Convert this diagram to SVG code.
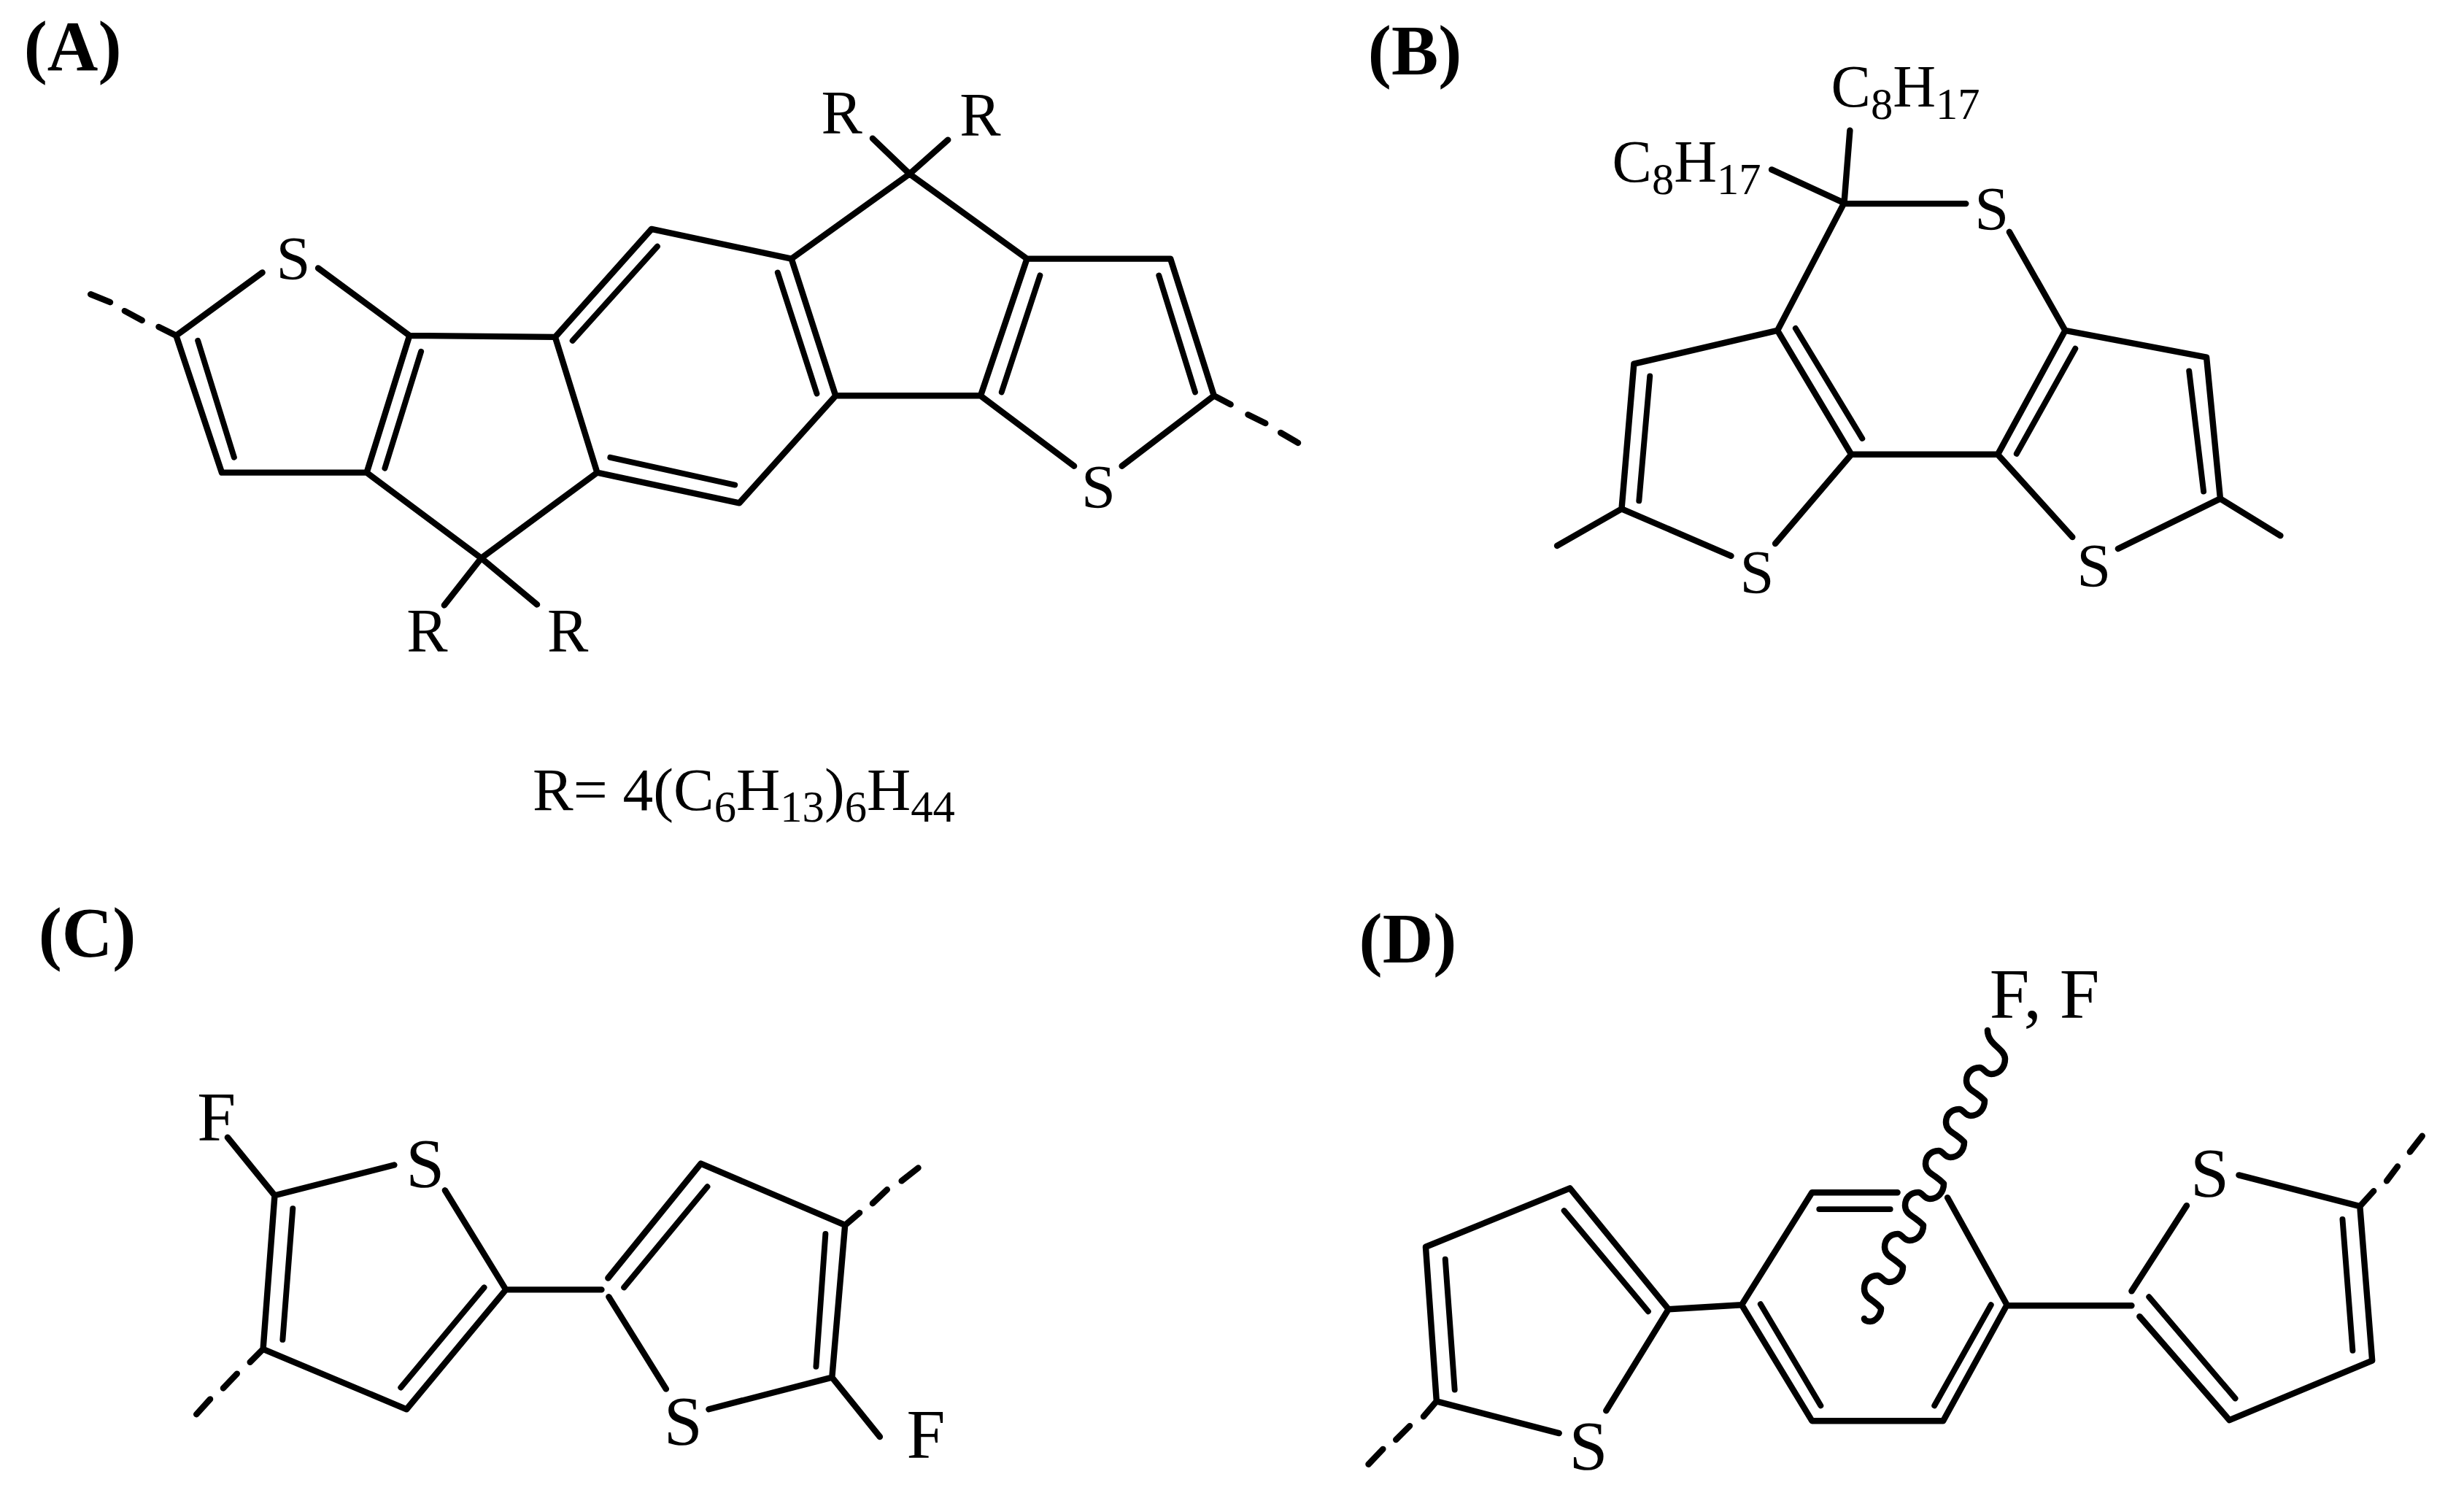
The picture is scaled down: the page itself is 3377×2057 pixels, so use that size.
<svg xmlns="http://www.w3.org/2000/svg" width="3377" height="2057" viewBox="0 0 3377 2057">
<style>
text{font-family:"Liberation Serif","Times New Roman",serif;fill:#000}
.p{font-weight:bold;font-size:97px}
.a{font-size:85px}
.f{font-size:96px}
.s{font-size:61px}
path{fill:none;stroke:#000;stroke-linecap:round;stroke-linejoin:round}
.b{stroke-width:8.5}
.i{stroke-width:8}
.w{stroke-width:8.5}
</style>
<rect width="3377" height="2057" fill="#fff"/>
<g id="connectors">
<g id="bonds-A" transform="scale(.9933)">
<path class="b" d="M362 376L243 463L306 652H506L565 463L439 370M565 463L766 465L899 316L1092 357L1153 546L1020 694L824 652L664 770L506 652M766 465L824 652M1092 357L1255 240L1417 357H1615L1675 546L1548 643M1417 357L1353 546L1482 643M1153 546H1353M664 770L613 835M664 770L741 834M1255 240L1204 191M1255 240L1308 193M243 463L219 451M196 442L172 429M152 417L125 406M1675 546L1698 558M1722 572L1746 584M1767 597L1791 611"/>
<path class="i" d="M273 470L323 631M581 485L531 646M790 470L907 340M1073 376L1127 543M842 631L1014 669M1435 380L1382 541M1599 380L1649 541"/>
</g>
<g id="bonds-B" transform="translate(1850 0) scale(.9933) translate(-1850 0)">
<path class="b" d="M2700 281H2532L2540 180M2532 280L2432 234M2532 280L2440 456L2242 502L2225 702L2376 767M2437 750L2542 627L2440 456M2542 627H2744L2837 456L2760 320M2837 456L3032 493L3051 688L2910 757M2847 741L2744 627M2225 702L2136 753M3051 688L3134 739"/>
<path class="i" d="M2264 519L2249 691M2465 453L2557 605M2851 481L2770 626M3008 512L3028 678"/>
</g>
<g id="bonds-C" transform="translate(0 1230) scale(.9933) translate(0 -1230)">
<path class="b" d="M314 1561L379 1641L544 1599M379 1641L363 1853L561 1936L698 1771L614 1634M698 1771H830M840 1781L919 1908M978 1936L1148 1892L1166 1682L967 1597L839 1755M1148 1892L1214 1974M363 1853L345 1871M327 1887L308 1907M290 1922L271 1943M1166 1682L1186 1665M1204 1652L1224 1633M1244 1621L1267 1603"/>
<path class="i" d="M404 1659L390 1840M668 1768L553 1906M976 1629L861 1768M1139 1694L1126 1877"/>
</g>
<g id="bonds-D" transform="translate(1800 1230) scale(.9933) translate(-1800 -1230)">
<path class="b" d="M2139 1969L1970 1925L1955 1712L2154 1631L2290 1798L2204 1938M2290 1798L2391 1792L2488 1952H2669L2757 1792L2675 1644M2391 1792L2488 1637H2606M2757 1793H2929M2929 1773L3005 1655M3077 1613L3244 1656L3261 1869L3064 1951L2940 1808M1970 1925L1952 1946M1933 1959L1914 1978M1896 1991L1876 2012M3244 1656L3263 1635M3281 1621L3296 1601M3313 1581L3330 1559"/>
<path class="i" d="M1982 1729L1995 1909M2146 1662L2262 1801M2498 1660H2596M2417 1791L2500 1931M2735 1792L2657 1931M3220 1674L3234 1855M3072 1921L2953 1781"/>
</g>
<path id="wavy-bond" class="w" d="M2724 1412C2724 1432 2748 1437 2748 1451c0 13 -9 21 -19 21c-8 0 -10 -9 -16 -9c-11 0 -18 8 -18 18c0 9 7 13 13 17c7 5 12 10 12 10c0 13 -9 21 -19 21c-8 0 -10 -9 -16 -9c-11 0 -18 8 -18 18c0 9 7 13 13 17c7 5 12 10 12 10c0 13 -9 21 -19 21c-8 0 -10 -9 -16 -9c-11 0 -18 8 -18 18c0 9 7 13 13 17c7 5 12 10 12 10c0 13 -9 21 -19 21c-8 0 -10 -9 -16 -9c-11 0 -18 8 -18 18c0 9 7 13 13 17c7 5 12 10 12 10c0 13 -9 21 -19 21c-8 0 -10 -9 -16 -9c-11 0 -18 8 -18 18c0 9 7 13 13 17c7 5 12 10 12 10c0 13 -9 21 -19 21c-8 0 -10 -9 -16 -9c-11 0 -18 8 -18 18c0 9 6 13 12 17c7 5 11 10 11 10c0 10 -8 18 -15 18c-5 0 -8 -2 -8 -4"/>
</g>
<g id="panel-A" transform="scale(.9933)">
<text class="p" x="33" y="97">(A)</text>
<text class="a" x="1133" y="184">R</text>
<text class="a" x="1324" y="187">R</text>
<text class="a" x="561" y="899">R</text>
<text class="a" x="755" y="899">R</text>
<text class="a" x="381" y="386">S</text>
<text class="a" x="1492" y="701">S</text>
<text class="a" x="735" y="1117" style="font-size:84px">R= 4(C<tspan class="s" dy="17">6</tspan><tspan dy="-17">H</tspan><tspan class="s" dy="17">13</tspan><tspan dy="-17">)</tspan><tspan class="s" dy="17">6</tspan><tspan dy="-17">H</tspan><tspan class="s" dy="17">44</tspan></text>
</g>
<g id="panel-B" transform="translate(1850 0) scale(.9933) translate(-1850 0)">
<text class="p" x="1875" y="103">(B)</text>
<text class="a" x="2514" y="147" style="font-size:82px">C<tspan class="s" dy="17">8</tspan><tspan dy="-17">H</tspan><tspan class="s" dy="17">17</tspan></text>
<text class="a" x="2212" y="251" style="font-size:82px">C<tspan class="s" dy="17">8</tspan><tspan dy="-17">H</tspan><tspan class="s" dy="17">17</tspan></text>
<text class="a" x="2712" y="317">S</text>
<text class="a" x="2388" y="818">S</text>
<text class="a" x="2853" y="809">S</text>
</g>
<g id="panel-C" transform="translate(0 1230) scale(.9933) translate(0 -1230)">
<text class="p" x="53" y="1312">(C)</text>
<text class="f" x="272" y="1565">F</text>
<text class="f" x="560" y="1630">S</text>
<text class="f" x="916" y="1985">S</text>
<text class="f" x="1251" y="2003">F</text>
</g>
<g id="panel-D" transform="translate(1800 1230) scale(.9933) translate(-1800 -1230)">
<text class="p" x="1863" y="1320">(D)</text>
<text class="f" x="2733" y="1396" style="font-size:99px">F, F</text>
<text class="f" x="2153" y="2019">S</text>
<text class="f" x="3010" y="1643">S</text>
</g>
</svg>
